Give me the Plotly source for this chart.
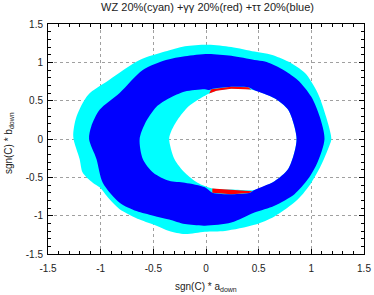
import plotly.graph_objects as go

# ---- data: region boundaries (data units) ----
cyan_outer_x = [1.19, 1.14, 1.06, 0.94, 0.78, 0.62, 0.46, 0.24, 0.02, -0.20, -0.39, -0.63, -0.92, -1.12, -1.23, -1.26,
                -1.20, -1.17, -1.075, -1.01, -0.92, -0.82, -0.63, -0.47, -0.35, -0.20, -0.01, 0.18, 0.46, 0.65, 0.87,
                1.00, 1.09, 1.17]
cyan_outer_y = [0.00, 0.29, 0.60, 0.86, 1.01, 1.10, 1.14, 1.20, 1.23, 1.21, 1.14, 1.03, 0.77, 0.575, 0.29, 0.03,
                -0.26, -0.44, -0.57, -0.63, -0.78, -0.915, -1.05, -1.13, -1.20, -1.24, -1.21, -1.20, -1.12, -1.01,
                -0.79, -0.57, -0.35, -0.09]

blue_outer_x = [1.125, 1.08, 1.00, 0.87, 0.71, 0.56, 0.46, 0.24, 0.02, -0.20, -0.38, -0.60, -0.82, -1.01, -1.09,
                -1.11, -1.04, -0.98, -0.82, -0.66, -0.50, -0.35, -0.20, -0.01, 0.24, 0.46, 0.65, 0.84, 0.97, 1.06]
blue_outer_y = [0.00, 0.29, 0.55, 0.77, 0.92, 1.01, 1.03, 1.085, 1.11, 1.08, 1.03, 0.90, 0.60, 0.38, 0.16,
                0.00, -0.26, -0.57, -0.83, -0.94, -1.00, -1.05, -1.11, -1.13, -1.09, -0.96, -0.87, -0.72, -0.52, -0.30]

# inner edge of the blue band: white hole (right), red lower edge, cyan crescent (left), red upper edge
blue_inner_x = [0.86, 0.84, 0.78, 0.65, 0.46, 0.41, 0.24, 0.06, -0.01, -0.20, -0.35, -0.50, -0.60, -0.63,
                -0.58, -0.47, -0.35, -0.20, -0.01, 0.03, 0.05, 0.24, 0.40, 0.46, 0.65, 0.78, 0.84]
blue_inner_y = [0.00, -0.17, -0.39, -0.55, -0.665, -0.705, -0.72, -0.70, -0.63, -0.57, -0.545, -0.44, -0.26, 0.00,
                0.20, 0.42, 0.53, 0.62, 0.65, 0.64, 0.65, 0.68, 0.675, 0.635, 0.53, 0.38, 0.16]

white_hole_x = [0.86, 0.84, 0.78, 0.65, 0.46, 0.41, 0.24, 0.06, -0.08, -0.20, -0.30, -0.35, -0.33, -0.27, -0.17,
                -0.08, 0.03, 0.10, 0.24, 0.40, 0.46, 0.65, 0.78, 0.84]
white_hole_y = [0.00, -0.17, -0.39, -0.55, -0.665, -0.67, -0.66, -0.645, -0.57, -0.44, -0.26, 0.00, 0.10, 0.25, 0.42,
                0.51, 0.595, 0.63, 0.655, 0.65, 0.635, 0.53, 0.38, 0.16]

red_top_x = [0.03, 0.10, 0.24, 0.40, 0.43, 0.40, 0.24, 0.05]
red_top_y = [0.595, 0.63, 0.655, 0.65, 0.645, 0.675, 0.68, 0.65]
red_bot_x = [0.06, 0.24, 0.41, 0.44, 0.41, 0.24, 0.06]
red_bot_y = [-0.645, -0.66, -0.67, -0.68, -0.705, -0.72, -0.70]

tick_vals = [-1.5, -1, -0.5, 0, 0.5, 1, 1.5]
tick_text = ["-1.5", "-1", "-0.5", "0", "0.5", "1", "1.5"]

title_text = "WZ 20%(cyan) +γγ 20%(red) +ττ 20%(blue)"
x_title = "sgn(C) * a<sub>down</sub>"
y_title = "sgn(C) * b<sub>down</sub>"

FONT = "Liberation Sans, Arial, sans-serif"
TEXT_COLOR = "#222"


def signed_area(xs, ys):
    s = 0.0
    n = len(xs)
    for i in range(n):
        j = (i + 1) % n
        s += xs[i] * ys[j] - xs[j] * ys[i]
    return s / 2


def ring(outer_x, outer_y, inner_x, inner_y):
    """Outer loop counter-clockwise, inner loop clockwise, as two sub-paths of one fill."""
    ox, oy = list(outer_x), list(outer_y)
    ix, iy = list(inner_x), list(inner_y)
    if signed_area(ox, oy) < 0:
        ox, oy = ox[::-1], oy[::-1]
    if signed_area(ix, iy) > 0:
        ix, iy = ix[::-1], iy[::-1]
    xs = ox + [ox[0], None] + ix + [ix[0]]
    ys = oy + [oy[0], None] + iy + [iy[0]]
    return xs, ys


fig = go.Figure()

cx, cy = ring(cyan_outer_x, cyan_outer_y, white_hole_x, white_hole_y)
fig.add_trace(go.Scatter(x=cx, y=cy, mode="lines", fill="toself", fillcolor="#00FFFF",
                         line=dict(width=0, color="#00FFFF", shape="spline", smoothing=0.8),
                         hoverinfo="skip", showlegend=False))
bx, by = ring(blue_outer_x, blue_outer_y, blue_inner_x, blue_inner_y)
fig.add_trace(go.Scatter(x=bx, y=by, mode="lines", fill="toself", fillcolor="#0000FF",
                         line=dict(width=0, color="#0000FF", shape="spline", smoothing=0.8),
                         hoverinfo="skip", showlegend=False))
for rx, ry in [(red_top_x, red_top_y), (red_bot_x, red_bot_y)]:
    fig.add_trace(go.Scatter(x=rx + [rx[0]], y=ry + [ry[0]], mode="lines", fill="toself", fillcolor="#FF0000",
                             line=dict(width=0, color="#FF0000"), hoverinfo="skip", showlegend=False))

axis_common = dict(
    range=[-1.5, 1.5], tickvals=tick_vals, ticktext=tick_text,
    ticks="inside", ticklen=5, tickcolor="black", tickwidth=1,
    minor=dict(dtick=0.1, ticks="inside", ticklen=3, tickcolor="black", showgrid=False),
    showline=True, linecolor="black", linewidth=1, mirror="allticks",
    showgrid=True, gridcolor="#a0a0a0", griddash="dot", gridwidth=1,
    zeroline=False, automargin=False, ticklabeloverflow="allow",
    tickfont=dict(family=FONT, size=10, color=TEXT_COLOR),
)

fig.update_layout(
    width=374, height=295,
    margin=dict(l=48, r=10, t=24, b=41, autoexpand=False),
    paper_bgcolor="white", plot_bgcolor="white",
    title=dict(text=title_text, x=0.555, xanchor="center", y=0.975, yanchor="middle",
               font=dict(family=FONT, size=11, color=TEXT_COLOR), automargin=False),
    xaxis=dict(axis_common, ticklabelstandoff=5),
    yaxis=dict(axis_common, ticklabelstandoff=2),
    annotations=[
        dict(text=x_title, xref="paper", yref="paper", x=0.5, y=-0.145, xanchor="center", yanchor="middle",
             showarrow=False, font=dict(family=FONT, size=10, color=TEXT_COLOR)),
        dict(text=y_title, xref="paper", yref="paper", x=-0.125, y=0.48, xanchor="center", yanchor="middle",
             textangle=-90, showarrow=False, font=dict(family=FONT, size=10, color=TEXT_COLOR)),
    ],
)

fig.write_html("out.html", config={"displayModeBar": False},
               post_script="document.body.style.margin='0px';")
